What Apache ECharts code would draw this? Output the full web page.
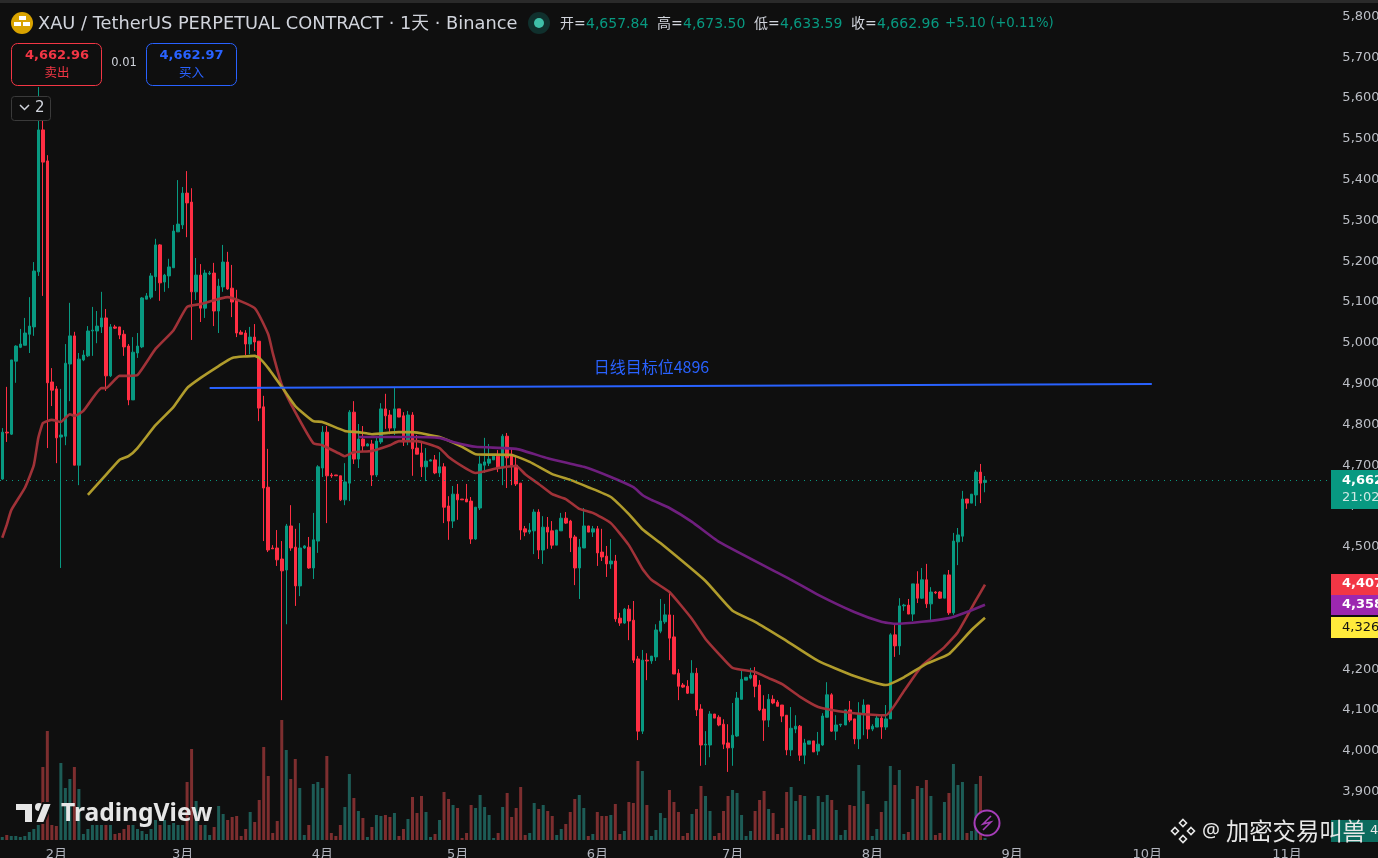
<!DOCTYPE html>
<html><head><meta charset="utf-8">
<style>html,body{margin:0;padding:0;background:#0f0f0f;overflow:hidden}#c{width:1378px;height:858px}</style>
<script src="https://cdn.jsdelivr.net/npm/echarts@6/dist/echarts.min.js"></script>
</head><body><div id="c"></div>
<script>
const opens=[4666,4781,4776,4955,4989,4994,5021,5039,5174,5522,
5446,4904,4887,4769,4771,4948,5017,4700,4958,4968,
5029,5029,5039,5061,4919,5039,5039,5021,4992,4860,
4975,4990,5107,5112,5162,5240,5149,5164,5184,5272,
5289,5367,5345,5125,5166,5085,5169,5171,5078,5137,
5198,5134,5105,5026,5024,4997,5014,5004,4843,4646,
4497,4497,4470,4443,4551,4499,4404,4497,4499,4448,
4514,4693,4781,4676,4676,4674,4615,4656,4830,4715,
4764,4747,4752,4676,4757,4838,4823,4791,4838,4821,
4759,4823,4742,4730,4696,4710,4713,4681,4696,4600,
4563,4629,4617,4617,4612,4519,4595,4700,4705,4713,
4722,4693,4771,4727,4700,4656,4544,4536,4539,4585,
4492,4548,4539,4504,4539,4570,4563,4524,4448,4497,
4551,4536,4544,4487,4477,4458,4465,4325,4313,4347,
4320,4225,4048,4222,4220,4230,4293,4316,4333,4279,
4190,4161,4158,4141,4190,4102,4014,4014,4090,4082,
4065,4019,4007,4036,4126,4173,4178,4185,4161,4102,
4075,4126,4119,4112,4087,4002,4053,4060,3989,4016,
4024,3999,4014,4082,4137,4048,4063,4063,4100,4078,
4029,4090,4112,4053,4058,4080,4058,4078,4284,4257,
4355,4357,4335,4409,4374,4419,4360,4389,4389,4374,
4431,4338,4512,4526,4617,4607,4627,4683,4657.84];
const closes=[4781,4779,4958,4992,4997,5024,5041,5176,5522,5443,
4902,4884,4767,4774,4950,5017,4700,4960,4970,5029,
5031,5041,5061,4919,5039,5036,5019,4990,4860,4977,
4992,5110,5115,5164,5240,5147,5166,5186,5274,5291,
5367,5343,5125,5166,5085,5171,5171,5078,5139,5198,
5132,5100,5024,5021,4997,5014,5002,4840,4644,4492,
4495,4468,4441,4551,4497,4404,4497,4502,4448,4517,
4696,4781,4674,4674,4674,4615,4659,4830,4715,4764,
4747,4752,4676,4759,4838,4821,4791,4838,4818,4757,
4823,4740,4727,4696,4710,4713,4681,4696,4597,4563,
4629,4615,4615,4610,4519,4597,4703,4708,4715,4722,
4693,4771,4718,4698,4654,4541,4536,4541,4585,4492,
4548,4536,4504,4541,4570,4558,4522,4448,4499,4551,
4536,4544,4485,4475,4458,4465,4323,4313,4347,4318,
4222,4048,4222,4220,4232,4296,4318,4333,4276,4188,
4158,4156,4141,4190,4100,4014,4016,4090,4080,4063,
4016,4007,4038,4129,4175,4180,4185,4158,4100,4075,
4126,4117,4109,4085,4002,4055,4060,3989,4019,4024,
3997,4016,4085,4137,4048,4063,4065,4100,4075,4029,
4092,4112,4053,4060,4080,4058,4078,4284,4257,4355,
4357,4335,4409,4374,4419,4360,4389,4387,4374,4431,
4338,4514,4529,4617,4607,4629,4683,4656,4662.96];
const highs=[4791,4892,4958,4994,5034,5061,5112,5198,5627,5588,
5460,4938,4894,4887,4997,5098,5027,4975,4982,5041,
5088,5078,5125,5083,5046,5044,5039,5031,4997,5014,
5024,5112,5122,5171,5255,5242,5169,5206,5289,5399,
5382,5421,5379,5208,5193,5179,5176,5196,5157,5240,
5223,5191,5130,5031,5031,5039,5046,5004,4870,4740,
4504,4541,4514,4556,4602,4544,4558,4504,4524,4583,
4700,4796,4796,4681,4676,4674,4705,4835,4857,4801,
4796,4754,4762,4769,4852,4875,4835,4889,4838,4830,
4833,4830,4774,4757,4742,4715,4725,4732,4705,4624,
4649,4654,4617,4654,4622,4597,4722,4767,4752,4722,
4737,4776,4779,4740,4722,4656,4551,4558,4592,4592,
4575,4573,4563,4541,4583,4585,4566,4529,4519,4595,
4551,4551,4551,4544,4502,4519,4480,4338,4350,4357,
4367,4232,4247,4239,4232,4310,4372,4360,4389,4333,
4200,4166,4173,4222,4203,4114,4048,4097,4090,4087,
4077,4065,4117,4144,4198,4180,4203,4205,4173,4136,
4139,4136,4124,4112,4087,4107,4087,4063,4029,4024,
4024,4046,4092,4168,4141,4087,4065,4100,4122,4078,
4119,4126,4112,4065,4090,4087,4112,4288,4308,4374,
4360,4372,4409,4440,4448,4458,4401,4391,4391,4431,
4443,4534,4546,4637,4617,4629,4688,4703,4673.5];
const lows=[4664,4757,4774,4902,4987,4994,4975,5017,5164,5115,
4742,4845,4705,4448,4749,4857,4700,4651,4955,4965,
4968,4999,5024,4882,4916,5034,5009,4968,4847,4860,
4963,4987,5107,5107,5127,5103,5125,5134,5184,5272,
5279,5259,5007,5105,5051,5061,5166,5041,5024,5125,
5130,5063,5014,5021,4970,4972,4980,4808,4514,4487,
4495,4453,4124,4310,4490,4355,4379,4495,4446,4421,
4485,4671,4558,4669,4674,4612,4602,4612,4703,4693,
4732,4747,4649,4671,4752,4789,4776,4774,4818,4747,
4749,4674,4727,4671,4661,4710,4678,4671,4558,4517,
4546,4566,4615,4610,4507,4517,4590,4681,4698,4713,
4683,4651,4644,4651,4649,4517,4526,4531,4482,4470,
4458,4495,4495,4504,4539,4556,4487,4406,4372,4497,
4536,4524,4453,4465,4426,4446,4316,4306,4311,4271,
4215,4026,4041,4173,4213,4220,4288,4311,4222,4188,
4124,4154,4139,4141,4085,3963,3965,3984,4080,4060,
4004,3948,3963,4034,4126,4173,4175,4131,4097,4024,
4058,4114,4109,4070,3989,3987,4043,3975,3967,4016,
3997,3989,4012,4082,4046,4026,4058,4063,4070,4016,
4004,4038,4029,4048,4058,4029,4051,4078,4230,4235,
4343,4335,4318,4362,4372,4350,4318,4384,4372,4374,
4333,4333,4455,4512,4593,4607,4600,4607,4633.59];
const volumes=[3,5,4,4,3,4,8,11,15,73,
109,15,14,77,52,61,73,51,6,11,
15,15,15,15,15,6,7,11,15,15,
11,9,6,11,20,15,20,15,17,15,
15,58,91,39,15,15,5,13,34,26,
20,23,24,4,11,28,18,40,93,64,
7,19,120,90,61,81,52,5,15,56,
58,52,84,7,4,15,33,66,42,29,
22,3,13,25,24,25,23,27,4,11,
21,43,27,44,28,3,6,20,48,41,
35,32,2,7,35,32,45,33,25,2,
7,33,47,23,32,53,5,7,37,31,
35,29,24,5,11,16,28,41,45,32,
4,6,28,24,24,25,36,6,9,38,
37,79,69,35,4,10,27,22,50,38,
28,4,7,26,31,54,44,29,4,7,
29,44,50,47,25,4,9,29,40,49,
31,27,6,12,48,53,39,45,44,5,
11,44,38,45,40,30,5,10,35,34,
75,49,36,4,11,28,39,74,55,70,
6,8,41,54,52,60,44,5,7,38,
47,76,55,58,7,9,56,64,2];
const maRedIdx=[0,1,2,5,7,8,9,10,11,13,14,15,16,18,22,23,26,28,30,34,38,41,44,50,56,59,60,62,65,69,71,75,76,78,82,86,88,92,97,99,103,105,110,114,116,119,122,125,128,131,135,139,142,144,148,153,156,159,162,167,170,173,177,181,184,189,196,200,204,209,212,216,218];
const maRedVal=[4522,4554,4590,4644,4700,4767,4803,4808,4811,4806,4816,4825,4821,4833,4889,4889,4919,4919,4921,4985,5031,5088,5095,5112,5085,5021,4975,4897,4830,4754,4749,4727,4722,4732,4735,4749,4759,4759,4742,4720,4691,4681,4693,4698,4678,4654,4629,4617,4593,4583,4558,4504,4446,4419,4389,4323,4274,4237,4203,4193,4178,4163,4132,4107,4100,4092,4087,4146,4208,4254,4291,4369,4407];
const maYellowIdx=[19,23,26,28,30,34,38,41,44,48,51,56,57,59,62,65,69,71,76,79,82,88,91,97,102,105,113,117,122,126,130,135,139,142,146,156,162,167,173,181,189,196,200,205,210,215,218];
const maYellowVal=[4627,4676,4713,4722,4742,4798,4843,4889,4914,4943,4963,4968,4963,4938,4892,4845,4808,4806,4784,4781,4776,4781,4781,4769,4745,4727,4725,4708,4678,4664,4646,4622,4580,4543,4509,4416,4343,4316,4276,4220,4183,4161,4180,4213,4237,4296,4326];
const maPurpleIdx=[79,84,90,97,100,105,114,121,129,135,140,142,144,148,153,159,175,181,189,195,198,204,210,214,218];
const maPurpleVal=[4769,4769,4769,4767,4757,4745,4740,4717,4696,4671,4646,4627,4615,4595,4561,4512,4419,4382,4340,4316,4311,4316,4325,4340,4358];
const trendIdx=[46,255];
const trendVal=[4889,4899];
const trendLabel='日线目标位4896';
const currentPrice=4662.96;
const monthDates=['02-01','03-01','04-01','05-01','06-01','07-01','08-01','09-01','10-01','11-01'];
const monthLabels=['2月','3月','4月','5月','6月','7月','8月','9月','10月','11月'];
const priceTicks=[5800,5700,5600,5500,5400,5300,5200,5100,5000,4900,4800,4700,4600,4500,4400,4300,4200,4100,4000,3900];

const BG='#0f0f0f',UP='#089981',DOWN='#ff2e43',VUP='#1d5c56',VDOWN='#7d2e2f';
const dayCount=296;
const categories=[];
for(let i=0;i<dayCount;i++){
  const d=new Date(Date.UTC(2026,0,20+i));
  categories.push(String(d.getUTCMonth()+1).padStart(2,'0')+'-'+String(d.getUTCDate()).padStart(2,'0'));
}
const monthMap={};monthDates.forEach((d,i)=>monthMap[d]=monthLabels[i]);
const candleData=opens.map((o,i)=>[o,closes[i],lows[i],highs[i]]);
const volData=volumes.map((v,i)=>({value:v,itemStyle:{color:closes[i]>=opens[i]?VUP:VDOWN}}));
const pairs=(a,b)=>a.map((n,i)=>[n,b[i]]);

const FONT='"DejaVu Sans","Noto Sans CJK SC",sans-serif';
const NUM='"DejaVu Sans","Noto Sans CJK SC",sans-serif';
function T(x,y,text,fill,font,align,extra){return Object.assign({type:'text',x,y,z:100,silent:true,style:{text,fill,font,align:align||'left',verticalAlign:'middle'}},extra||{});}
function R(x,y,w,h,fill,stroke,r){return {type:'rect',z:99,silent:true,shape:{x,y,width:w,height:h,r:r||0},style:{fill:fill||'transparent',stroke:stroke||null,lineWidth:1}};}
const gfx=[
  R(0,0,1378,3,'#2a2a2a'),
  {type:'circle',z:99,silent:true,shape:{cx:22,cy:23,r:11},style:{fill:'#d9a300'}},
  R(19,16,7,4,'#fff'),R(14,22,7,4,'#fff'),R(23,22,7,4,'#fff'),
  T(38,24,'XAU / TetherUS PERPETUAL CONTRACT · 1天 · Binance','#d1d4dc','17.8px '+FONT),
  {type:'circle',z:99,silent:true,shape:{cx:539,cy:23,r:11},style:{fill:'#10302d'}},
  {type:'circle',z:100,silent:true,shape:{cx:539,cy:23,r:5},style:{fill:'#3fbfa8'}},
  T(560,24,'开=','#d1d4dc','14px '+NUM),T(586,24,'4,657.84',UP,'14px '+NUM),
  T(657,24,'高=','#d1d4dc','14px '+NUM),T(683,24,'4,673.50',UP,'14px '+NUM),
  T(754,24,'低=','#d1d4dc','14px '+NUM),T(780,24,'4,633.59',UP,'14px '+NUM),
  T(851,24,'收=','#d1d4dc','14px '+NUM),T(877,24,'4,662.96',UP,'14px '+NUM),
  T(945,24,'+5.10 (+0.11%)',UP,'13.3px '+NUM),
  R(11.5,43.5,90,42,BG,'#f23645',6),
  T(57,56,'4,662.96','#f23645','bold 13px '+NUM,'center'),
  T(57,74,'卖出','#f23645','12.5px '+NUM,'center'),
  T(124,63,'0.01','#d1d4dc','11.5px '+NUM,'center'),
  R(146.5,43.5,90,42,BG,'#2962ff',6),
  T(191.5,56,'4,662.97','#2962ff','bold 13px '+NUM,'center'),
  T(191.5,74,'买入','#2962ff','12.5px '+NUM,'center'),
  R(11.5,96.5,39,24,BG,'#3a3a3a',3),
  {type:'polyline',z:100,silent:true,shape:{points:[[20,105],[24.5,109.5],[29,105]]},style:{stroke:'#d1d4dc',lineWidth:1.5,fill:null}},
  T(35,108,'2','#d1d4dc','15px '+NUM),
  {type:'polygon',z:100,silent:true,shape:{points:[[15,803],[33,803],[33,823],[24,823],[24,811],[15,811]]},style:{fill:'#e6e6e6',stroke:BG,lineWidth:2}},
  {type:'circle',z:100,silent:true,shape:{cx:39,cy:807,r:4},style:{fill:'#e6e6e6'}},
  {type:'polygon',z:100,silent:true,shape:{points:[[43,803],[52,803],[44,823],[35,823]]},style:{fill:'#e6e6e6',stroke:BG,lineWidth:2}},
  T(61,814,'TradingView','#e6e6e6','bold 24.6px "Noto Sans",sans-serif'),
  R(1331,470,47,39,UP),
  T(1342,481,'4,662','#ffffff','bold 13px '+NUM),
  T(1342,498,'21:02','#cfe9e4','13px '+NUM),
  R(1331,574,47,21,'#f23645'),
  T(1342,584,'4,407','#ffffff','bold 13px '+NUM),
  R(1331,595,47,20,'#9c27b0'),
  T(1342,605,'4,358','#ffffff','bold 13px '+NUM),
  R(1331,617,47,21,'#ffeb3b'),
  T(1342,627.5,'4,326','#131313','13px '+NUM),
  R(1331,820,47,22,'#0b6b5e'),
  {type:'circle',z:100,silent:true,shape:{cx:987,cy:823,r:12.5},style:{fill:BG,stroke:'#a63db8',lineWidth:2}},
  {type:'polyline',z:101,silent:true,shape:{points:[[991,816],[983,824],[991,822],[983,830]]},style:{stroke:'#a63db8',lineWidth:1.6,fill:null}},
  T(1202,831,'@','#e8e8e8','20px "Noto Sans",sans-serif'),
  T(1226,831,'加密交易叫兽','#e8e8e8','23.3px "Noto Sans CJK SC",sans-serif'),
  T(1370,831,'4','#e8e8e8','13px '+NUM),
];
[[1183,823],[1175,831],[1191,831],[1183,839]].forEach(p=>{
  gfx.push({type:'polygon',z:100,silent:true,shape:{points:[[p[0],p[1]-3.5],[p[0]+3.5,p[1]],[p[0],p[1]+3.5],[p[0]-3.5,p[1]]]},style:{fill:'none',stroke:'#e8e8e8',lineWidth:1.6}});
});

const lineSeries=(name,idx,val,color)=>({name,type:'line',xAxisIndex:0,yAxisIndex:0,data:pairs(idx,val),symbol:'none',smooth:0.15,z:4,silent:true,lineStyle:{color,width:2.6},itemStyle:{color}});

const chart=echarts.init(document.getElementById('c'),null,{renderer:'canvas',width:1378,height:858});
chart.setOption({
  animation:false,backgroundColor:BG,
  grid:[{left:0,width:dayCount*4.508,top:16.5,height:775,outerBoundsMode:'none'},{left:0,width:dayCount*4.508,top:720,height:120,outerBoundsMode:'none'}],
  xAxis:[
    {type:'category',gridIndex:0,data:categories,show:false,boundaryGap:true},
    {type:'category',gridIndex:1,data:categories,boundaryGap:true,axisLine:{show:false},axisTick:{show:false},splitLine:{show:false},
     axisLabel:{show:true,margin:8,color:'#b2b5be',fontFamily:'"DejaVu Sans","Noto Sans CJK SC",sans-serif',fontSize:13,hideOverlap:false,
       interval:(i,v)=>v in monthMap,formatter:v=>monthMap[v]||''}}
  ],
  yAxis:[
    {type:'value',gridIndex:0,position:'right',min:3900,max:5800,interval:100,scale:true,splitLine:{show:false},axisLine:{show:false},axisTick:{show:false},
     axisLabel:{margin:8,align:'left',color:'#bcbfc6',fontFamily:'"DejaVu Sans",sans-serif',fontSize:13,hideOverlap:false,showMinLabel:true,showMaxLabel:true,
       formatter:v=>priceTicks.includes(v)?v.toLocaleString('en-US'):''}},
    {type:'value',gridIndex:1,min:0,max:120,show:false,splitLine:{show:false}}
  ],
  series:[
    {name:'Volume',type:'bar',xAxisIndex:1,yAxisIndex:1,data:volData,barWidth:3,z:1,silent:true},
    {name:'XAU',type:'candlestick',xAxisIndex:0,yAxisIndex:0,data:candleData,barWidth:3,z:3,silent:true,
     itemStyle:{color:UP,color0:DOWN,borderColor:UP,borderColor0:DOWN,borderWidth:1},
     markLine:{silent:true,symbol:['none','none'],label:{show:false},lineStyle:{color:UP,type:[1,5],width:1},data:[{yAxis:currentPrice}]}},
    lineSeries('MA red',maRedIdx,maRedVal,'#a13238'),
    lineSeries('MA yellow',maYellowIdx,maYellowVal,'#b09c2c'),
    lineSeries('MA purple',maPurpleIdx,maPurpleVal,'#6f1f7e'),
    {name:'Trend',type:'line',xAxisIndex:0,yAxisIndex:0,data:pairs(trendIdx,trendVal),symbol:'none',z:5,silent:true,lineStyle:{color:'#2962ff',width:2},
     markPoint:{silent:true,symbol:'circle',symbolSize:0,data:[{coord:[144,4941],label:{show:true,position:'inside',formatter:trendLabel,color:'#2962ff',fontSize:16,fontFamily:'"Noto Sans CJK SC",sans-serif'}}]}}
  ],
  graphic:{elements:gfx}
});
</script></body></html>
